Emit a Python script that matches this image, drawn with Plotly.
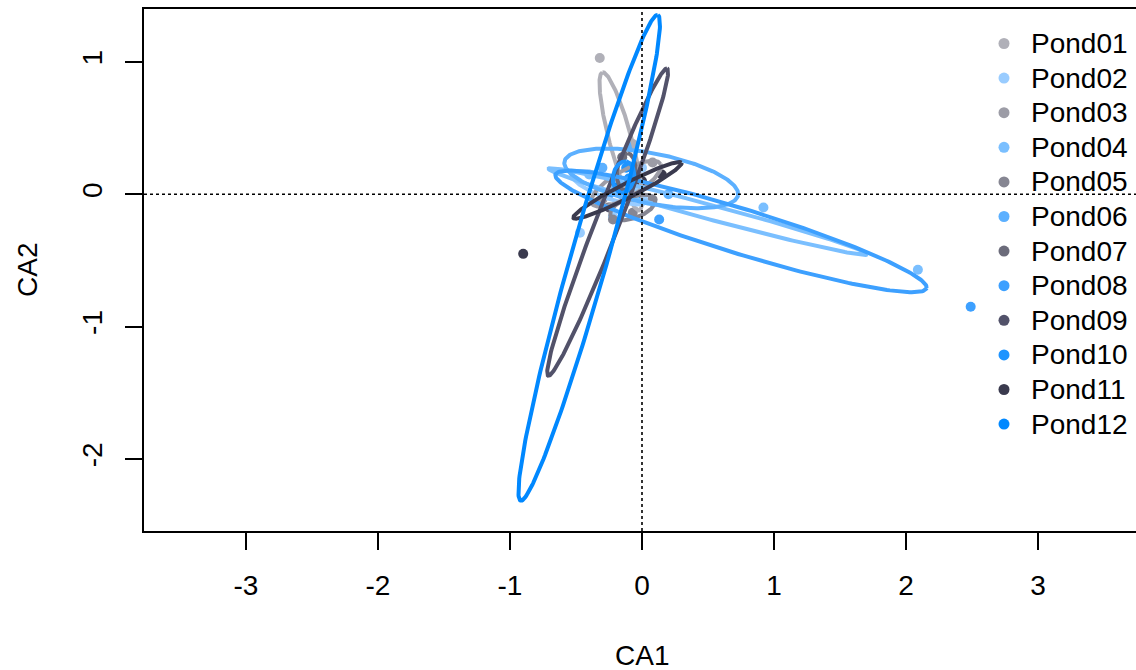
import numpy as np
import plotly.graph_objects as go

# ---------------- data ----------------
ponds = ["Pond01", "Pond02", "Pond03", "Pond04", "Pond05", "Pond06",
         "Pond07", "Pond08", "Pond09", "Pond10", "Pond11", "Pond12"]
pond_colors = ["#b0b0b8", "#99ccff", "#9c9ca6", "#7abfff", "#868692", "#5cb0ff",
               "#6b6b7a", "#3da0ff", "#52526a", "#1e94ff", "#3a3a4e", "#0088ff"]

# site scores (CA1, CA2) with pond membership
sample_pond = ["Pond01", "Pond01", "Pond01",
               "Pond02", "Pond02", "Pond02",
               "Pond03", "Pond03", "Pond03",
               "Pond04", "Pond04", "Pond04", "Pond04",
               "Pond05", "Pond05", "Pond05",
               "Pond06", "Pond06", "Pond06",
               "Pond07", "Pond07", "Pond07",
               "Pond08", "Pond08", "Pond08",
               "Pond09", "Pond09", "Pond09",
               "Pond10", "Pond10", "Pond10",
               "Pond11", "Pond11", "Pond11",
               "Pond12", "Pond12", "Pond12"]
sample_ca1 = [-0.32, -0.07, -0.05,
              -0.22, -0.47, 0.00,
              -0.30, 0.08, -0.10,
              2.09, 0.92, -0.40, -0.20,
              -0.22, 0.08, -0.07,
              -0.09, 0.20, -0.30,
              -0.15, -0.10, -0.05,
              2.49, 0.13, -0.25,
              -0.15, -0.25, -0.05,
              -0.12, -0.15, -0.10,
              -0.90, 0.15, 0.00,
              -0.10, -0.20, 0.00]
sample_ca2 = [1.03, 0.38, 0.02,
              -0.17, -0.29, 0.20,
              -0.04, 0.24, 0.10,
              -0.57, -0.10, 0.15, 0.05,
              -0.19, -0.04, -0.14,
              0.36, 0.00, 0.20,
              0.28, 0.05, 0.15,
              -0.85, -0.19, 0.00,
              0.00, -0.10, 0.10,
              0.20, 0.05, 0.12,
              -0.45, 0.15, 0.10,
              0.00, 0.10, -0.05]

# ellipse parameters per pond: centre, semi-axes, rotation (degrees)
ell_cx = [-0.16, -0.25, -0.12, 0.50, -0.07, 0.07, -0.12, 0.75, -0.26, -0.14, -0.11, -0.40]
ell_cy = [0.40, 0.05, 0.08, -0.13, -0.10, 0.12, 0.17, -0.28, -0.21, 0.13, 0.03, -0.48]
ell_a = [0.54, 0.30, 0.30, 1.25, 0.18, 0.67, 0.14, 1.47, 1.245, 0.12, 0.46, 1.907]
ell_b = [0.085, 0.08, 0.10, 0.055, 0.08, 0.19, 0.07, 0.17, 0.09, 0.08, 0.055, 0.14]
ell_angle = [105, -20, 30, -15, 20, -11, 85, -17, 68.8, 80, 27, 74.2]

x_ticks = [-3, -2, -1, 0, 1, 2, 3]
y_ticks = [-2, -1, 0, 1]

# ---------------- figure ----------------
FONT = "Liberation Sans, Arial, sans-serif"
W, H = 1136, 670
L, R, T, B = 144, 0, 9, 139
fig = go.Figure()

for p, c in zip(ponds, pond_colors):
    xs = [x for x, q in zip(sample_ca1, sample_pond) if q == p]
    ys = [y for y, q in zip(sample_ca2, sample_pond) if q == p]
    fig.add_trace(go.Scatter(x=xs, y=ys, mode="markers", name=p,
                             marker=dict(size=10, color=c), showlegend=False))

t = np.linspace(0, 2 * np.pi, 240)
for i, (p, c) in enumerate(zip(ponds, pond_colors)):
    th = np.deg2rad(ell_angle[i])
    ex = ell_cx[i] + ell_a[i] * np.cos(t) * np.cos(th) - ell_b[i] * np.sin(t) * np.sin(th)
    ey = ell_cy[i] + ell_a[i] * np.cos(t) * np.sin(th) + ell_b[i] * np.sin(t) * np.cos(th)
    fig.add_trace(go.Scatter(x=ex, y=ey, mode="lines", name=p,
                             line=dict(color=c, width=4), showlegend=False,
                             hoverinfo="skip"))

# dotted zero lines
shapes = [
    dict(type="line", xref="x", yref="paper", x0=0, x1=0, y0=0, y1=1,
         line=dict(color="black", width=1.6, dash="dot")),
    dict(type="line", xref="paper", yref="y", x0=0, x1=1, y0=0, y1=0,
         line=dict(color="black", width=1.6, dash="dot")),
]
annotations = []

# manual legend (R style, no box)
pw = W - L - R
ph = H - T - B
leg_x_px = 1004
for i, (p, c) in enumerate(zip(ponds, pond_colors)):
    ypx = 43.5 + i * 34.6
    yp = (H - B - ypx) / ph
    xp = (leg_x_px - L) / pw
    shapes.append(dict(type="circle", xref="paper", yref="paper",
                       xsizemode="pixel", ysizemode="pixel",
                       xanchor=xp, yanchor=yp, x0=-5.5, x1=5.5, y0=-5.5, y1=5.5,
                       fillcolor=c, line=dict(width=0)))
    annotations.append(dict(text=p, xref="paper", yref="paper",
                            x=(1029 - L) / pw, y=yp, xanchor="left", yanchor="middle",
                            showarrow=False, font=dict(size=28, color="black", family=FONT)))

# axis titles
annotations.append(dict(text="CA1", xref="paper", yref="paper",
                        x=(642 - L) / pw, y=(H - B - 655) / ph,
                        xanchor="center", yanchor="middle", showarrow=False,
                        font=dict(size=28, color="black", family=FONT)))
annotations.append(dict(text="CA2", xref="paper", yref="paper",
                        x=(27 - L) / pw, y=(H - B - 270) / ph, textangle=-90,
                        xanchor="center", yanchor="middle", showarrow=False,
                        font=dict(size=28, color="black", family=FONT)))

fig.update_layout(
    width=W, height=H,
    margin=dict(l=L, r=R, t=T, b=B, pad=0),
    paper_bgcolor="white", plot_bgcolor="white",
    font=dict(family=FONT, size=28, color="black"),
    shapes=shapes, annotations=annotations,
    showlegend=False,
    xaxis=dict(range=[(L - 642) / 132.0, (W - R - 642) / 132.0],
               tickvals=x_ticks, ticktext=[str(v) for v in x_ticks],
               ticks="outside", ticklen=17, tickwidth=1.5, tickcolor="black",
               showline=True, linecolor="black", linewidth=1.5, mirror=True,
               showgrid=False, zeroline=False, ticklabelstandoff=12),
    yaxis=dict(range=[(194.3 - (H - B)) / 132.33, (194.3 - T) / 132.33],
               tickvals=y_ticks, ticktext=[str(v) for v in y_ticks],
               tickangle=-90,
               ticks="outside", ticklen=17, tickwidth=1.5, tickcolor="black",
               showline=True, linecolor="black", linewidth=1.5, mirror=False,
               showgrid=False, zeroline=False, ticklabelstandoff=12),
)

fig.write_html("out.html")
